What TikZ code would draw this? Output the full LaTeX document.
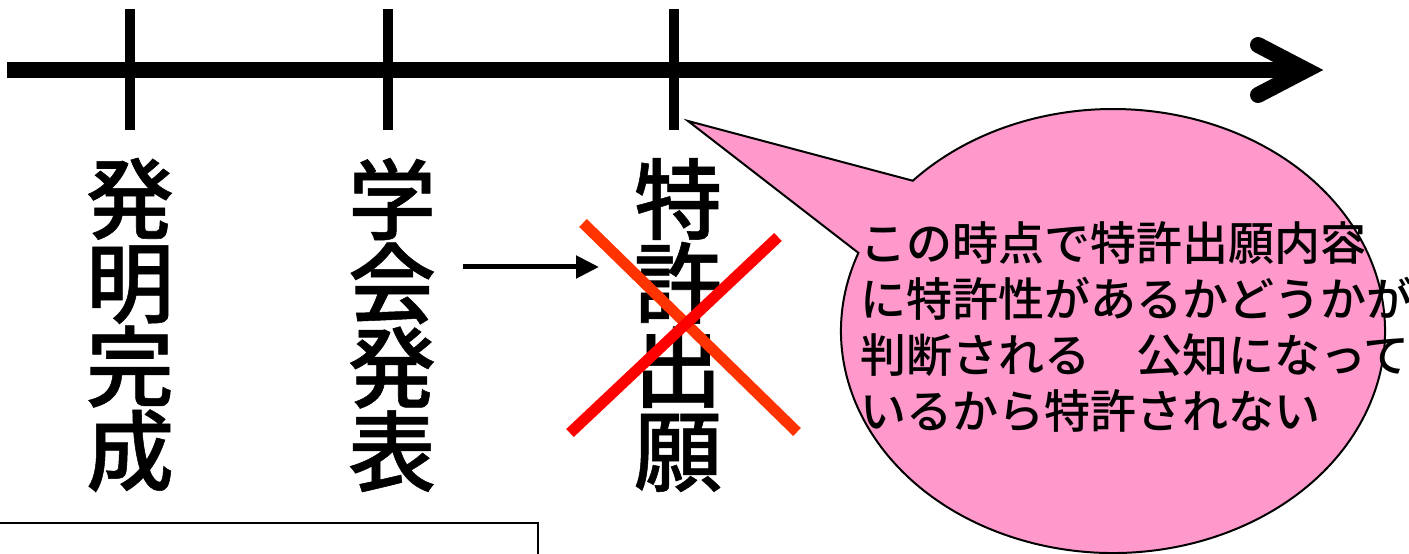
\documentclass[tikz,border=0pt]{standalone}
\usepackage{fontspec}
\newfontfamily\jp{Noto Sans CJK JP Medium}
\newfontfamily\jpmed[FakeBold=0.6]{Noto Sans CJK JP Medium}
\usetikzlibrary{arrows.meta,calc}
\definecolor{bubblepink}{RGB}{255,153,204}
\definecolor{xorange}{RGB}{255,51,0}
\definecolor{xred}{RGB}{255,0,0}
\tikzset{
  timeline/.style={line width=16pt},
  tickmark/.style={line width=10pt},
  vlabel/.style={inner sep=0pt, align=center, font=\jpmed\fontsize{88}{84}\selectfont},
  bubbletext/.style={inner sep=0pt, align=left, font=\jp\fontsize{46}{56}\selectfont},
  crossline/.style={line width=11pt},
  smallarrow/.style={line width=5pt, -{Triangle[length=23pt,width=22pt]}},
}
\begin{document}
\begin{tikzpicture}[x=1pt,y=1pt]
\useasboundingbox (0,0) rectangle (1409,554);
% timeline
\coordinate (tl0) at (7,484);
\coordinate (tl1) at (1306,484);
\coordinate (ah1) at (1258,509);
\coordinate (ah2) at (1258,459);
\draw[timeline] (tl0) -- (tl1);
\draw[timeline, line cap=round, line join=miter] (ah1) -- (tl1) -- (ah2);
% ticks
\coordinate (t1a) at (130,545); \coordinate (t1b) at (130,424);
\coordinate (t2a) at (387.5,545); \coordinate (t2b) at (387.5,424);
\coordinate (t3a) at (674,545); \coordinate (t3b) at (674,424);
\draw[tickmark] (t1a) -- (t1b);
\draw[tickmark] (t2a) -- (t2b);
\draw[tickmark] (t3a) -- (t3b);
% callout bubble
\coordinate (bc) at (1113,223);
\coordinate (tip) at (688,433);
\draw[fill=bubblepink, line width=2pt, line join=miter]
  ($(bc)+(137.4:272 and 222)$) -- (tip) -- ($(bc)+(159.4:272 and 222)$)
  arc[start angle=159.4, end angle=497.4, x radius=272, y radius=222] -- cycle;
\node[bubbletext, anchor=west] (bt) at (860,227.5)
  {この時点で特許出願内容\\に特許性があるかどうかが\\判断される　公知になって\\いるから特許されない};
% vertical labels
\node[vlabel] (c1) at (130,229) {発\\明\\完\\成};
\node[vlabel] (c2) at (392,229) {学\\会\\発\\表};
\node[vlabel] (c3) at (678,229) {特\\許\\出\\願};
% small arrow
\coordinate (sa1) at (463,287);
\coordinate (sa2) at (599,287);
\draw[smallarrow] (sa1) -- (sa2);
% red cross
\coordinate (xa1) at (583,331); \coordinate (xa2) at (797,122);
\coordinate (xb1) at (778,317); \coordinate (xb2) at (570,121);
\draw[crossline, xorange] (xa1) -- (xa2);
\draw[crossline, xred] (xb1) -- (xb2);
% bottom box
\coordinate (bx1) at (-5,-5);
\coordinate (bx2) at (538,31);
\draw[line width=2.5pt] (bx1) rectangle (bx2);
\end{tikzpicture}
\end{document}
